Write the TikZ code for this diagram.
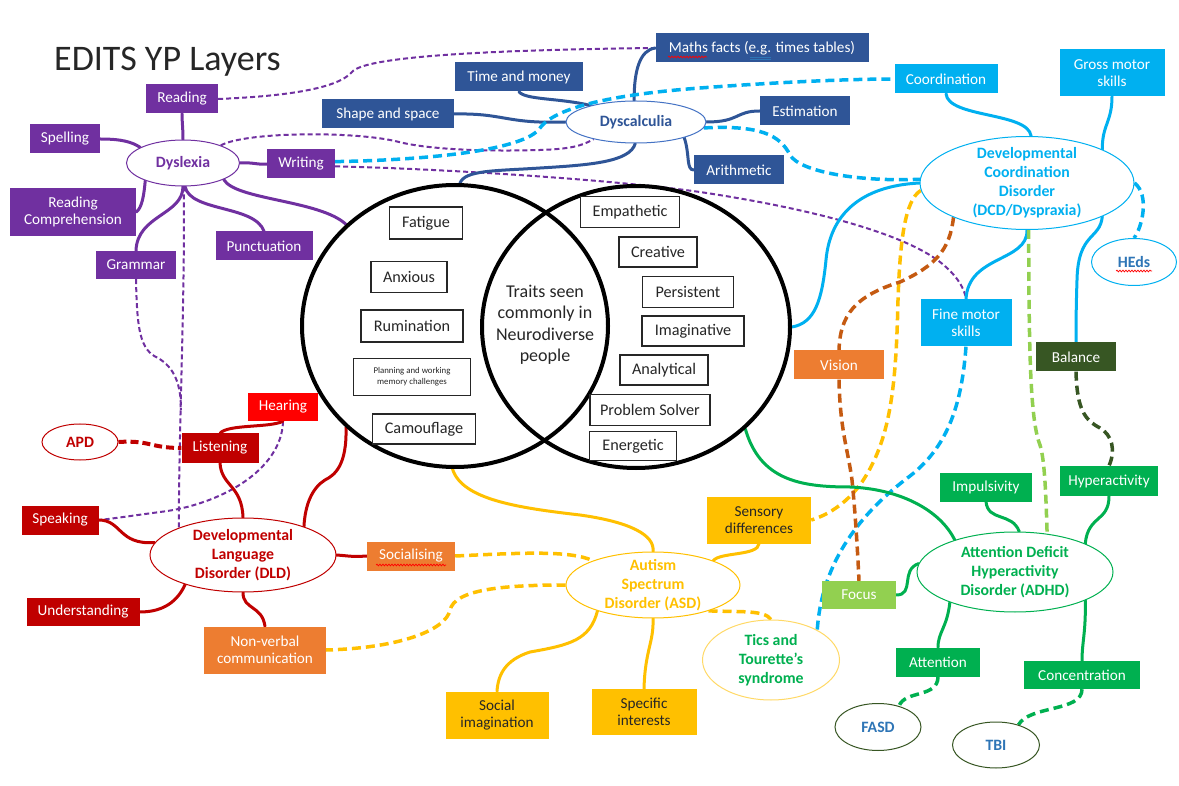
\documentclass[tikz,border=0pt]{standalone}
\usepackage{fontspec}
\setmainfont{Carlito}
\usetikzlibrary{shapes.geometric,decorations.pathmorphing,calc}

\definecolor{dyspurple}{HTML}{7030A0}
\definecolor{calcblue}{HTML}{2F5597}
\definecolor{calcring}{HTML}{4472C4}
\definecolor{dcdcyan}{HTML}{00B0F0}
\definecolor{adhdgreen}{HTML}{00B050}
\definecolor{lightgreen}{HTML}{92D050}
\definecolor{darkgreen}{HTML}{375623}
\definecolor{dldred}{HTML}{C00000}
\definecolor{brightred}{HTML}{FF0000}
\definecolor{asdgold}{HTML}{FFC000}
\definecolor{paleGold}{HTML}{FFD966}
\definecolor{orangebox}{HTML}{ED7D31}
\definecolor{brownline}{HTML}{C55A11}
\definecolor{labelblue}{HTML}{2E75B6}
\definecolor{inkgrey}{HTML}{262626}

\pgfdeclarelayer{paper}
\pgfdeclarelayer{wires}
\pgfsetlayers{paper,wires,main}

\tikzset{
  sz/.style 2 args={minimum width=#1, minimum height=#2},
  tag/.style={rectangle, inner sep=1pt, text=white, align=center,
    font=\fontsize{15.2}{17}\selectfont},
  purpletag/.style={tag, fill=dyspurple},
  bluetag/.style={tag, fill=calcblue},
  cyantag/.style={tag, fill=dcdcyan},
  greentag/.style={tag, fill=adhdgreen},
  redtag/.style={tag, fill=dldred},
  orangetag/.style={tag, fill=orangebox},
  goldtag/.style={tag, fill=asdgold, text=inkgrey},
  hub/.style={ellipse, draw, fill=white, line width=1pt, inner sep=0pt},
  hubtext/.style={align=center, inner sep=0pt, font=\fontsize{15.8}{19}\selectfont\bfseries},
  trait/.style={rectangle, draw=inkgrey, line width=1.1pt, fill=white, inner sep=1pt,
    text=inkgrey, font=\fontsize{16.2}{18}\selectfont, align=center},
  venn/.style={ellipse, draw=black, line width=4pt, inner sep=0pt},
  link/.style={line width=3pt, line cap=round},
  dashlink/.style={line width=3.5pt, dash pattern=on 9pt off 5pt},
  thindash/.style={line width=2pt, dash pattern=on 5pt off 3pt},
  spellwave/.style={red, line width=0.7pt, decorate,
    decoration={snake, amplitude=0.9pt, segment length=3pt}},
}

\begin{document}
\begin{tikzpicture}[x=1pt, y=-1pt]
\useasboundingbox (0,0) rectangle (1179,786);
\begin{pgfonlayer}{paper}
  \fill[white] (0,0) rectangle (1179,786);
\end{pgfonlayer}

% ---------- title ----------
\node[anchor=west, inner sep=0pt, text=inkgrey, font=\fontsize{36}{40}\selectfont] (title) at (54,62) {EDITS YP Layers};

% ---------- Venn diagram of traits ----------
\node[venn, sz={306}{282}] (vl) at (455,326) {};
\node[venn, sz={308}{282}] (vr) at (636,327) {};

\node[trait, sz={73}{32}]  (fatigue)    at (426,223) {Fatigue};
\node[trait, sz={76}{31}]  (anxious)    at (409,277) {Anxious};
\node[trait, sz={102}{32}] (rumination) at (412,326) {Rumination};
\node[trait, sz={117}{37}, font=\fontsize{8.8}{11}\selectfont] (planning) at (412,377) {Planning and working\\memory challenges};
\node[trait, sz={103}{30}] (camouflage) at (424,429) {Camouflage};

\node[trait, sz={99}{31}]  (empathetic)  at (630,212) {Empathetic};
\node[trait, sz={78}{30}]  (creative)    at (658,252) {Creative};
\node[trait, sz={91}{31}]  (persistent)  at (688,292) {Persistent};
\node[trait, sz={102}{30}] (imaginative) at (693,331) {Imaginative};
\node[trait, sz={88}{30}]  (analytical)  at (664,370) {Analytical};
\node[trait, sz={120}{31}] (solver)      at (650,410) {Problem Solver};
\node[trait, sz={87}{29}]  (energetic)   at (633,446) {Energetic};

\node[align=center, text=inkgrey, font=\fontsize{18}{21.5}\selectfont] (traits) at (545,325) {Traits seen\\commonly in\\Neurodiverse\\people};

% ---------- Dyslexia ----------
\node[hub, draw=dyspurple, sz={113}{46}] (dyslexia) at (183,163) {};
\node[hubtext, text=dyspurple] (dyslexiatext) at (dyslexia) {Dyslexia};
\node[purpletag, sz={72}{29}]  (reading)  at (182,99)  {Reading};
\node[purpletag, sz={70}{29}]  (spelling) at (65,139)  {Spelling};
\node[purpletag, sz={68}{29}]  (writing)  at (301,164) {Writing};
\node[purpletag, sz={126}{48}] (readcomp) at (73,212)  {Reading\\Comprehension};
\node[purpletag, sz={97}{29}]  (punct)    at (264,246) {Punctuation};
\node[purpletag, sz={80}{28}]  (grammar)  at (136,265) {Grammar};

% ---------- Dyscalculia ----------
\node[hub, draw=calcring, sz={140}{42}] (dyscalc) at (636,122) {};
\node[hubtext, text=calcblue] (dyscalctext) at (dyscalc) {Dyscalculia};
\node[bluetag, sz={213}{29}] (maths)      at (762,48)  {Maths facts (e.g. times tables)};
\node[bluetag, sz={128}{29}] (timemoney)  at (519,77)  {Time and money};
\node[bluetag, sz={132}{29}] (shape)      at (388,114) {Shape and space};
\node[bluetag, sz={90}{29}]  (estimation) at (805,111) {Estimation};
\node[bluetag, sz={90}{29}]  (arith)      at (739,170) {Arithmetic};

% ---------- DCD ----------
\node[hub, draw=dcdcyan, sz={214}{93}] (dcd) at (1027,183) {};
\node[hubtext, text=dcdcyan] (dcdtext) at (dcd) {Developmental\\Coordination\\Disorder\\(DCD/Dyspraxia)};
\node[hub, draw=dcdcyan, sz={85}{47}] (heds) at (1134,262) {};
\node[hubtext, text=labelblue] (hedstext) at (heds) {HEds};
\node[cyantag, sz={103}{29}] (coord) at (946,79)  {Coordination};
\node[cyantag, sz={105}{47}] (gross) at (1112,73) {Gross motor\\skills};
\node[cyantag, sz={91}{47}]  (fine)  at (966,323) {Fine motor\\skills};
\node[tag, fill=darkgreen, sz={80}{29}] (balance) at (1076,357) {Balance};

% ---------- ADHD ----------
\node[hub, draw=adhdgreen, sz={196}{80}] (adhd) at (1015,572) {};
\node[hubtext, text=adhdgreen] (adhdtext) at (adhd) {Attention Deficit\\Hyperactivity\\Disorder (ADHD)};
\node[greentag, sz={92}{29}]  (impuls)        at (986,487)  {Impulsivity};
\node[greentag, sz={98}{30}]  (hyper)         at (1109,481) {Hyperactivity};
\node[tag, fill=lightgreen, sz={74}{28}] (focus) at (859,595) {Focus};
\node[greentag, sz={84}{29}]  (attention)     at (938,662)  {Attention};
\node[greentag, sz={116}{28}] (concentration) at (1082,675) {Concentration};
\node[hub, draw=darkgreen, sz={86}{47}] (fasd) at (878,727) {};
\node[hubtext, text=labelblue] (fasdtext) at (fasd) {FASD};
\node[hub, draw=darkgreen, sz={87}{46}] (tbi) at (996,745) {};
\node[hubtext, text=labelblue] (tbitext) at (tbi) {TBI};
\node[orangetag, sz={90}{29}] (vision) at (839,365) {Vision};

% ---------- ASD ----------
\node[hub, draw=asdgold, sz={174}{66}] (asd) at (653,585) {};
\node[hubtext, text=asdgold] (asdtext) at (asd) {Autism\\Spectrum\\Disorder (ASD)};
\node[hub, draw=paleGold, sz={137}{80}] (tics) at (771,660) {};
\node[hubtext, text=adhdgreen] (ticstext) at (tics) {Tics and\\Tourette’s\\syndrome};
\node[goldtag, sz={104}{47}] (sensory) at (759,520) {Sensory\\differences};
\node[goldtag, sz={103}{47}] (socimag) at (497,715) {Social\\imagination};
\node[goldtag, sz={105}{46}] (specint) at (644,712) {Specific\\interests};
\node[orangetag, sz={88}{29}]  (socialising) at (411,556) {Socialising};
\node[orangetag, sz={122}{47}] (nonverbal)   at (265,650) {Non-verbal\\communication};

% ---------- DLD ----------
\node[hub, draw=dldred, sz={186}{74}] (dld) at (243,555) {};
\node[hubtext, text=dldred] (dldtext) at (dld) {Developmental\\Language\\Disorder (DLD)};
\node[hub, draw=dldred, sz={76}{36}] (apd) at (80,442) {};
\node[hubtext, text=dldred] (apdtext) at (apd) {APD};
\node[tag, fill=brightred, sz={70}{28}] (hearing) at (283,407) {Hearing};
\node[redtag, sz={77}{29}]  (listening)     at (220,448) {Listening};
\node[redtag, sz={77}{29}]  (speaking)      at (60,520)  {Speaking};
\node[redtag, sz={113}{28}] (understanding) at (83,612)  {Understanding};

% spell-check marks under some words
\draw[spellwave] ($(maths.center)+(-94,9)$) -- ($(maths.center)+(-55,9)$);
\draw[labelblue, line width=0.6pt] ($(maths.center)+(-12,9)$) -- ($(maths.center)+(9,9)$)
  ($(maths.center)+(-12,11)$) -- ($(maths.center)+(9,11)$);
\draw[spellwave] ($(socialising.center)+(-35,9)$) -- ($(socialising.center)+(35,9)$);
\draw[spellwave] ($(heds.center)+(-18,9)$) -- ($(heds.center)+(18,9)$);

\coordinate (purplejoin) at (181,410);

% ---------- connectors ----------
\begin{pgfonlayer}{wires}
% Dyslexia
\draw[link, dyspurple] (dyslexia.north) .. controls (183,128) and (182,122) .. (reading.south);
\draw[link, dyspurple] (spelling.east) .. controls (122,139) and (132,142) .. (dyslexia.160);
\draw[link, dyspurple] (dyslexia.east) .. controls (252,162) and (258,165) .. (writing.west);
\draw[link, dyspurple] (dyslexia.-155) .. controls (144,195) and (142,208) .. (readcomp.east);
\draw[link, dyspurple] (dyslexia.south) .. controls (183,215) and (137,215) .. (grammar.north);
\draw[link, dyspurple] (dyslexia.-85) .. controls (190,212) and (255,205) .. (punct.north);
\draw[link, dyspurple] (dyslexia.-22) .. controls (235,200) and (320,200) .. (vl.137);
\draw[thindash, dyspurple] (reading.east) .. controls (290,96) and (338,88) .. (352,72) .. controls (364,57) and (480,50) .. (maths.west);
\draw[thindash, dyspurple] (dyslexia.25) .. controls (245,132) and (350,131) .. (395,141) .. controls (420,148) and (470,152) .. (540,150) .. controls (570,149) and (582,146) .. (dyscalc.-158);
\draw[thindash, dyspurple] (writing.-4) .. controls (420,168) and (600,178) .. (700,192) .. controls (820,210) and (905,235) .. (940,262) .. controls (958,276) and (965,290) .. (fine.north);
\draw[thindash, dyspurple] (dyslexia.-88) .. controls (185,300) and (179,420) .. (dld.157);
\draw[thindash, dyspurple] (grammar.south) .. controls (137,330) and (140,350) .. (158,358) .. controls (175,368) and (181,385) .. (purplejoin);
\draw[thindash, dyspurple] (hearing.south) .. controls (282,470) and (220,505) .. (160,512) .. controls (130,516) and (110,519) .. (speaking.east);
% Dyscalculia
\draw[link, calcblue] (dyscalc.95) .. controls (634,70) and (640,50) .. (maths.west);
\draw[link, calcblue] (timemoney.south) .. controls (525,100) and (560,98) .. (dyscalc.160);
\draw[link, calcblue] (shape.east) .. controls (505,113) and (505,124) .. (dyscalc.west);
\draw[link, calcblue] (dyscalc.east) .. controls (740,122) and (735,111) .. (estimation.west);
\draw[link, calcblue] (dyscalc.-18) .. controls (690,155) and (686,170) .. (arith.west);
\draw[link, calcblue] (dyscalc.-92) .. controls (630,162) and (590,165) .. (540,168) .. controls (495,171) and (465,170) .. (vl.88);
% DCD
\draw[link, dcdcyan] (coord.south) .. controls (948,118) and (1028,112) .. (dcd.85);
\draw[link, dcdcyan] (gross.south) .. controls (1112,122) and (1102,125) .. (dcd.24);
\draw[link, dcdcyan] (dcd.180) .. controls (860,186) and (830,215) .. (826,260) .. controls (822,300) and (815,323) .. (vr.east);
\draw[link, dcdcyan] (dcd.-90) .. controls (1028,262) and (968,255) .. (fine.north);
\draw[link, dcdcyan] (dcd.-24) .. controls (1100,240) and (1078,232) .. (1077,280) .. controls (1076,310) and (1076,330) .. (balance.north);
\draw[dashlink, dcdcyan] (dcd.east) .. controls (1150,195) and (1142,228) .. (heds.north);
\draw[dashlink, dcdcyan] (dyscalc.-5) .. controls (760,125) and (780,135) .. (790,155) .. controls (800,172) and (860,182) .. (dcd.178);
\draw[dashlink, dcdcyan] (writing.4) .. controls (430,160) and (525,150) .. (540,128) .. controls (556,106) and (620,94) .. (700,88) .. controls (780,82) and (850,79) .. (coord.west);
\draw[dashlink, dcdcyan] (fine.south) .. controls (962,400) and (950,445) .. (910,476) .. controls (862,512) and (822,560) .. (tics.33);
\draw[dashlink, asdgold] (dcd.184) .. controls (905,200) and (900,240) .. (898,300) .. controls (896,390) and (890,440) .. (862,482) .. controls (846,505) and (825,516) .. (sensory.east);
\draw[dashlink, brownline] (dcd.-155) .. controls (950,250) and (935,266) .. (900,282) .. controls (855,296) and (840,315) .. (vision.north);
\draw[dashlink, brownline] (vision.south) .. controls (840,430) and (848,450) .. (852,480) .. controls (856,520) and (858,560) .. (focus.north);
\draw[dashlink, lightgreen] (dcd.-88) .. controls (1029,350) and (1030,420) .. (1040,445) .. controls (1045,460) and (1046,500) .. (adhd.50);
\draw[dashlink, darkgreen] (balance.south) .. controls (1077,410) and (1085,420) .. (1100,428) .. controls (1112,435) and (1116,450) .. (hyper.north);
% ADHD
\draw[link, adhdgreen] (vr.-43) .. controls (760,480) and (800,487) .. (850,487) .. controls (900,489) and (940,510) .. (adhd.152);
\draw[link, adhdgreen] (impuls.south) .. controls (988,522) and (1012,512) .. (adhd.84);
\draw[link, adhdgreen] (hyper.south) .. controls (1109,522) and (1088,515) .. (adhd.22);
\draw[link, adhdgreen] (focus.east) .. controls (915,595) and (900,570) .. (adhd.175);
\draw[link, adhdgreen] (adhd.-155) .. controls (947,628) and (938,632) .. (attention.north);
\draw[link, adhdgreen] (adhd.-22) .. controls (1086,632) and (1082,642) .. (concentration.north);
\draw[dashlink, adhdgreen] (attention.south) .. controls (938,698) and (905,690) .. (fasd.45);
\draw[dashlink, adhdgreen] (concentration.south) .. controls (1082,712) and (1030,705) .. (tbi.42);
% ASD
\draw[link, asdgold] (vl.-91) .. controls (462,500) and (520,508) .. (580,515) .. controls (630,522) and (655,535) .. (asd.north);
\draw[link, asdgold] (asd.22) .. controls (720,552) and (758,556) .. (sensory.south);
\draw[link, asdgold] (asd.-155) .. controls (590,640) and (570,645) .. (530,652) .. controls (505,660) and (498,675) .. (socimag.north);
\draw[link, asdgold] (asd.south) .. controls (654,642) and (645,650) .. (specint.north);
\draw[dashlink, asdgold] (socialising.east) .. controls (520,553) and (570,550) .. (asd.158);
\draw[dashlink, asdgold] (asd.west) .. controls (500,585) and (455,590) .. (450,610) .. controls (446,630) and (400,648) .. (nonverbal.east);
\draw[dashlink, asdgold] (asd.-25) .. controls (740,612) and (765,610) .. (tics.north);
% DLD
\draw[link, dldred] (hearing.south) .. controls (270,428) and (228,424) .. (listening.north);
\draw[link, dldred] (listening.south) .. controls (221,486) and (242,485) .. (dld.north);
\draw[link, dldred] (vl.-137) .. controls (347,465) and (335,475) .. (325,480) .. controls (312,488) and (305,505) .. (dld.25);
\draw[link, dldred] (speaking.east) .. controls (122,520) and (118,545) .. (dld.172);
\draw[link, dldred] (dld.-153) .. controls (178,600) and (165,612) .. (understanding.east);
\draw[link, dldred] (dld.south) .. controls (243,610) and (262,605) .. (nonverbal.north);
\draw[link, dldred] (dld.east) .. controls (350,556) and (352,557) .. (socialising.west);
\draw[line width=4pt, dldred, dash pattern=on 8pt off 4pt] (apd.east) .. controls (150,440) and (150,448) .. (listening.west);
\end{pgfonlayer}
\end{tikzpicture}
\end{document}
